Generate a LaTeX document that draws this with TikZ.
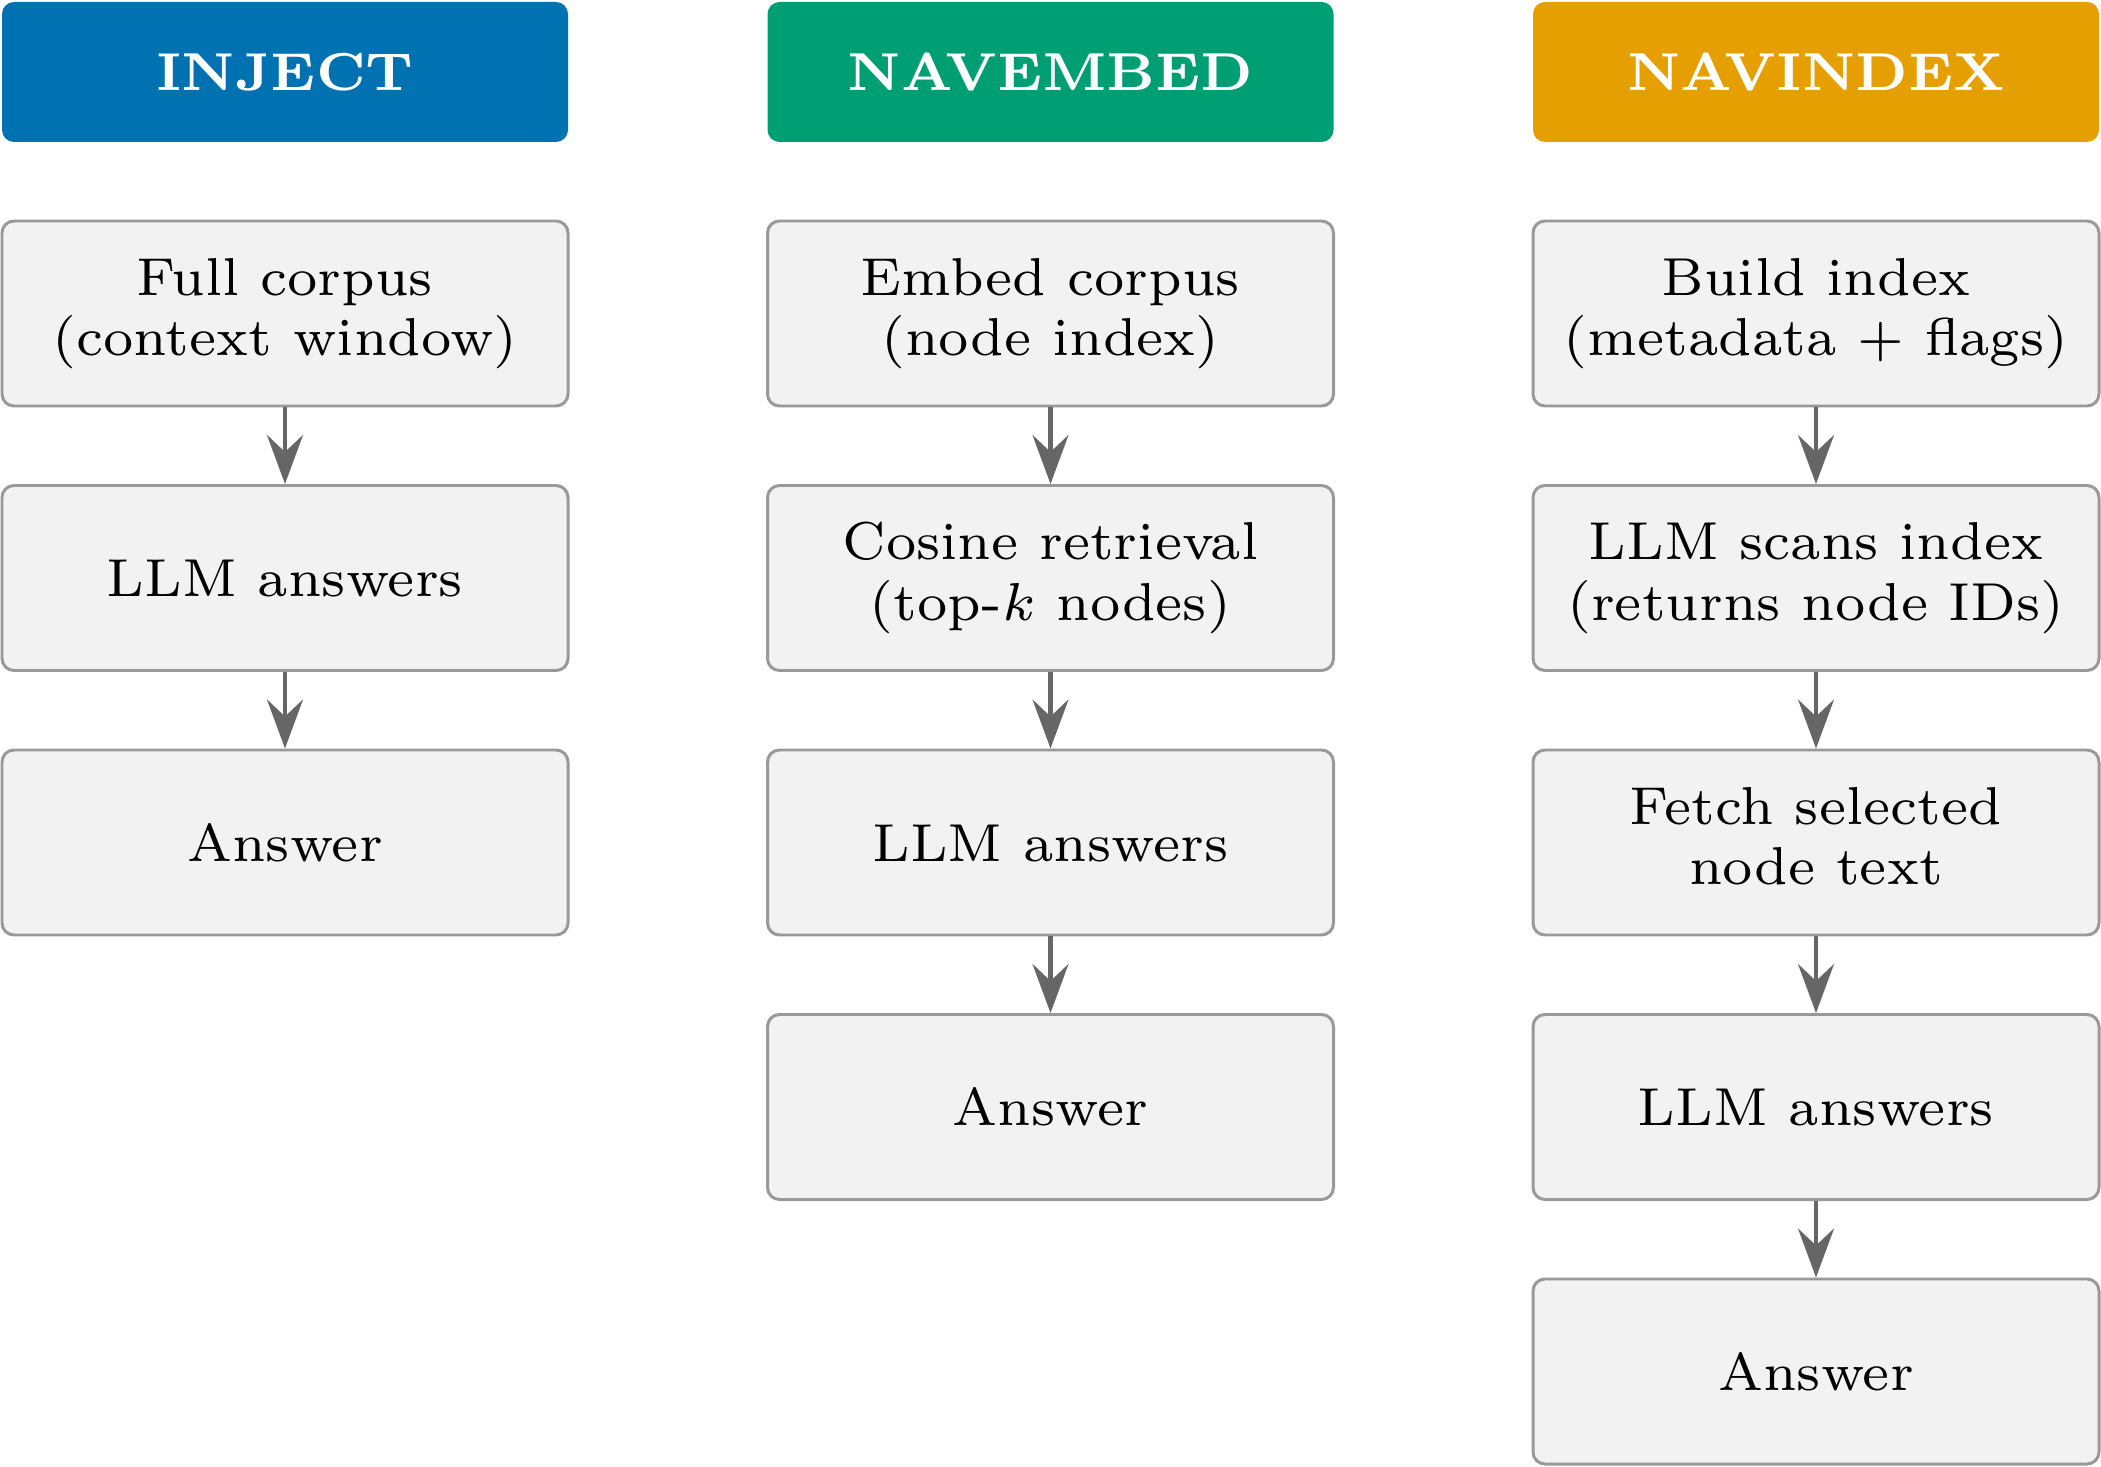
\documentclass[tikz,border=0pt]{standalone}
\usepackage{graphicx}
\usetikzlibrary{arrows.meta}
\definecolor{cblue}{HTML}{0072B2}
\definecolor{cgreen}{HTML}{009E73}
\definecolor{corange}{HTML}{E69F00}
\definecolor{boxfill}{HTML}{F2F2F2}
\definecolor{boxline}{HTML}{999999}
\definecolor{arrcol}{HTML}{666666}
\newcommand{\bxtext}[1]{\scalebox{2.17}{\fontsize{7}{7.88}\selectfont\begin{tabular}{@{}c@{}}#1\end{tabular}}}
\newcommand{\bxone}[1]{\raisebox{0pt}[13pt][2.2pt]{\scalebox{2.17}{\fontsize{7}{7.88}\selectfont #1}}}
\newcommand{\hdtext}[1]{\scalebox{2.17}{\fontsize{7}{8}\selectfont\bfseries #1}}
\tikzset{
  stepbox/.style={draw=boxline, fill=boxfill, rounded corners=0.12cm, line width=0.85pt,
    minimum width=5.66cm, minimum height=1.85cm, inner sep=0pt, align=center},
  headbox/.style={rounded corners=0.12cm, minimum width=5.66cm, minimum height=1.40cm,
    inner sep=0pt, text=white},
  flow/.style={draw=arrcol, line width=1.2pt, -{Stealth[length=4.9mm,width=3.6mm,inset=1.7mm]}}
}
\begin{document}
\begin{tikzpicture}
\useasboundingbox (0,0) rectangle (21.01,-14.67);
% headers
\node[headbox, fill=cblue] (h1) at (2.85,-0.72) {\hdtext{INJECT}};
\node[headbox, fill=cgreen] (h2) at (10.505,-0.72) {\hdtext{NAVEMBED}};
\node[headbox, fill=corange] (h3) at (18.16,-0.72) {\hdtext{NAVINDEX}};
% column 1
\node[stepbox] (a1) at (2.85,-3.135) {\bxtext{Full corpus\\(context window)}};
\node[stepbox] (a2) at (2.85,-5.78) {\bxone{LLM answers}};
\node[stepbox] (a3) at (2.85,-8.425) {\bxone{Answer}};
% column 2
\node[stepbox] (b1) at (10.505,-3.135) {\bxtext{Embed corpus\\(node index)}};
\node[stepbox] (b2) at (10.505,-5.78) {\bxtext{Cosine retrieval\\(top-$k$ nodes)}};
\node[stepbox] (b3) at (10.505,-8.425) {\bxone{LLM answers}};
\node[stepbox] (b4) at (10.505,-11.07) {\bxone{Answer}};
% column 3
\node[stepbox] (c1) at (18.16,-3.135) {\bxtext{Build index\\(metadata + flags)}};
\node[stepbox] (c2) at (18.16,-5.78) {\bxtext{LLM scans index\\(returns node IDs)}};
\node[stepbox] (c3) at (18.16,-8.425) {\bxtext{Fetch selected\\node text}};
\node[stepbox] (c4) at (18.16,-11.07) {\bxone{LLM answers}};
\node[stepbox] (c5) at (18.16,-13.715) {\bxone{Answer}};
% arrows
\draw[flow] (a1) -- (a2);
\draw[flow] (a2) -- (a3);
\draw[flow] (b1) -- (b2);
\draw[flow] (b2) -- (b3);
\draw[flow] (b3) -- (b4);
\draw[flow] (c1) -- (c2);
\draw[flow] (c2) -- (c3);
\draw[flow] (c3) -- (c4);
\draw[flow] (c4) -- (c5);
\end{tikzpicture}
\end{document}
